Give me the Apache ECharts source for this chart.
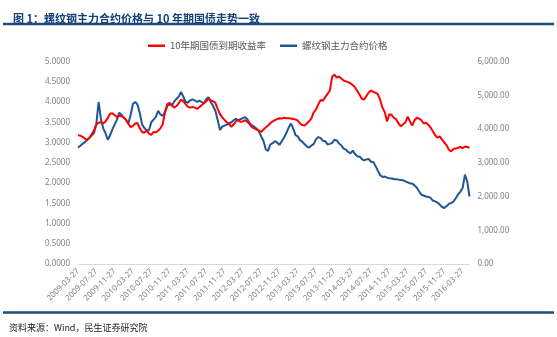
<!DOCTYPE html>
<html>
<head>
<meta charset="utf-8">
<script src="https://cdn.jsdelivr.net/npm/echarts@6/dist/echarts.min.js"></script>
<style>
html,body{margin:0;padding:0;background:#fff;}
#chart{width:557px;height:337px;}
</style>
</head>
<body>
<div id="chart"></div>
<script>
// Tick labels shown on the x axis (every 4 months)
const tickLabels = ['2009-03-27','2009-07-27','2009-11-27','2010-03-27','2010-07-27','2010-11-27',
  '2011-03-27','2011-07-27','2011-11-27','2012-03-27','2012-07-27','2012-11-27','2013-03-27',
  '2013-07-27','2013-11-27','2014-03-27','2014-07-27','2014-11-27','2015-03-27','2015-07-27',
  '2015-11-27','2016-03-27'];

// 10年期国债到期收益率 (%), half-month samples
const yieldValues = [
  3.18,3.17,3.14,3.10,3.05,3.12,3.20,3.30,3.45,3.49,3.50,3.47,3.52,3.60,3.71,3.72,
  3.68,3.63,3.66,3.65,3.62,3.56,3.46,3.38,3.41,3.47,3.48,3.35,3.26,3.24,3.30,3.22,
  3.19,3.26,3.25,3.29,3.35,3.45,3.75,3.95,3.98,3.92,3.86,3.90,3.97,4.06,4.02,3.95,
  3.88,3.86,3.88,3.86,3.83,3.87,3.92,3.97,4.02,4.08,4.04,4.02,3.98,3.83,3.70,3.62,
  3.56,3.50,3.45,3.39,3.45,3.52,3.55,3.51,3.52,3.55,3.51,3.45,3.38,3.35,3.32,3.29,
  3.26,3.32,3.37,3.42,3.48,3.52,3.55,3.58,3.60,3.59,3.61,3.60,3.60,3.59,3.58,3.57,
  3.54,3.47,3.43,3.42,3.47,3.53,3.60,3.75,3.82,3.95,4.05,4.03,4.12,4.20,4.28,4.62,
  4.68,4.60,4.63,4.58,4.53,4.51,4.49,4.46,4.42,4.36,4.27,4.18,4.08,4.06,4.15,4.24,
  4.28,4.25,4.23,4.19,4.05,3.86,3.75,3.52,3.70,3.68,3.61,3.57,3.47,3.40,3.45,3.50,
  3.64,3.52,3.42,3.55,3.61,3.59,3.55,3.47,3.49,3.44,3.37,3.28,3.18,3.12,3.15,3.07,
  3.00,2.93,2.82,2.78,2.84,2.85,2.87,2.89,2.86,2.90,2.89,2.87
];

// 螺纹钢主力合约价格 (元/吨), half-month samples
const rebarValues = [
  3450,3500,3560,3610,3680,3745,3810,3880,4150,4800,4300,4020,3880,3680,3810,3990,
  4130,4270,4480,4420,4340,4260,4160,4420,4750,4800,4720,4470,4130,4030,3960,3960,
  4200,4280,4360,4540,4430,4390,4500,4680,4730,4700,4810,4890,4960,5100,4960,4800,
  4780,4850,4880,4850,4800,4840,4800,4760,4880,4940,4800,4680,4540,4270,3970,4070,
  4100,4130,4170,4200,4260,4300,4260,4290,4320,4350,4290,4170,4110,4070,4010,3940,
  3780,3650,3400,3350,3540,3580,3640,3600,3530,3640,3750,3880,4040,4160,4020,3820,
  3780,3670,3620,3550,3480,3450,3510,3560,3700,3760,3730,3650,3640,3540,3560,3590,
  3680,3660,3570,3520,3420,3390,3320,3280,3360,3260,3190,3180,3110,3070,3100,3110,
  3030,3020,2900,2760,2630,2580,2590,2560,2540,2535,2520,2510,2500,2490,2480,2450,
  2420,2390,2380,2330,2260,2150,2050,2030,1995,1990,1960,1880,1855,1820,1760,1690,
  1660,1720,1780,1810,1850,1950,2060,2140,2250,2650,2450,2000
];

const seriesNames = ['10年期国债到期收益率', '螺纹钢主力合约价格'];

// half-month category dates: 27th and following 12th of each month
const categories = [];
for (let i = 0; i < yieldValues.length; i++) {
  const half = Math.floor(i / 2);
  let m = 2 + half + (i % 2);           // zero-based month from March 2009
  const y = 2009 + Math.floor(m / 12);
  const mm = (m % 12) + 1;
  const d = i % 2 === 0 ? '27' : '12';
  categories.push(y + '-' + String(mm).padStart(2, '0') + '-' + d);
}
const tickSet = new Set(tickLabels);

const chart = echarts.init(document.getElementById('chart'), null, {renderer: 'canvas'});
const axisFont = {fontSize: 8, color: '#7f7f7f', fontFamily: 'Noto Sans, sans-serif'};

chart.setOption({
  animation: false,
  backgroundColor: '#fff',
  title: {
    text: '图 1：螺纹钢主力合约价格与 10 年期国债走势一致',
    left: 8, top: 8,
    textStyle: {fontSize: 11, fontWeight: 'bold', color: '#15407a', fontFamily: 'Noto Sans CJK SC'}
  },
  graphic: [
    {type: 'line', shape: {x1: 3, y1: 24, x2: 554, y2: 24}, style: {stroke: '#1f4e79', lineWidth: 2.5}},
    {type: 'line', shape: {x1: 3, y1: 312.5, x2: 554, y2: 312.5}, style: {stroke: '#1f4e79', lineWidth: 2.5}},
    {type: 'text', left: 9, top: 323,
     style: {text: '资料来源：Wind，民生证券研究院', fontSize: 9, fill: '#222', fontFamily: 'Noto Sans CJK SC'}}
  ],
  legend: {
    left: 143, top: 36,
    icon: 'rect', itemWidth: 17, itemHeight: 2.5, itemGap: 14,
    textStyle: {fontSize: 9.5, color: '#595959', fontFamily: 'Noto Sans CJK SC'},
    data: seriesNames
  },
  grid: {left: 78, right: 87.5, top: 61.5, bottom: 73, containLabel: false, outerBoundsMode: 'none'},
  xAxis: {
    type: 'category',
    data: categories,
    boundaryGap: false,
    axisLine: {lineStyle: {color: '#d9d9d9', width: 1}},
    axisTick: {show: false},
    axisLabel: Object.assign({}, axisFont, {
      rotate: 45, margin: 6, hideOverlap: false,
      interval: function (idx, val) { return tickSet.has(val); }
    }),
    splitLine: {show: false}
  },
  yAxis: [
    {
      type: 'value', min: 0, max: 5, interval: 0.5,
      axisLine: {show: false}, axisTick: {show: false}, splitLine: {show: false},
      axisLabel: Object.assign({}, axisFont, {margin: 8, formatter: v => v.toFixed(4)})
    },
    {
      type: 'value', min: 0, max: 6000, interval: 1000,
      axisLine: {show: false}, axisTick: {show: false}, splitLine: {show: false},
      axisLabel: Object.assign({}, axisFont, {
        margin: 8,
        formatter: v => String(v).replace(/\B(?=(\d{3})+(?!\d))/g, ',') + '.00'
      })
    }
  ],
  series: [
    {
      name: seriesNames[0], type: 'line', yAxisIndex: 0, data: yieldValues,
      showSymbol: false, symbol: 'none', lineStyle: {color: '#ff0000', width: 2},
      itemStyle: {color: '#ff0000'}, z: 3
    },
    {
      name: seriesNames[1], type: 'line', yAxisIndex: 1, data: rebarValues,
      showSymbol: false, symbol: 'none', lineStyle: {color: '#1f5597', width: 2},
      itemStyle: {color: '#1f5597'}, z: 2
    }
  ]
});
</script>
</body>
</html>
